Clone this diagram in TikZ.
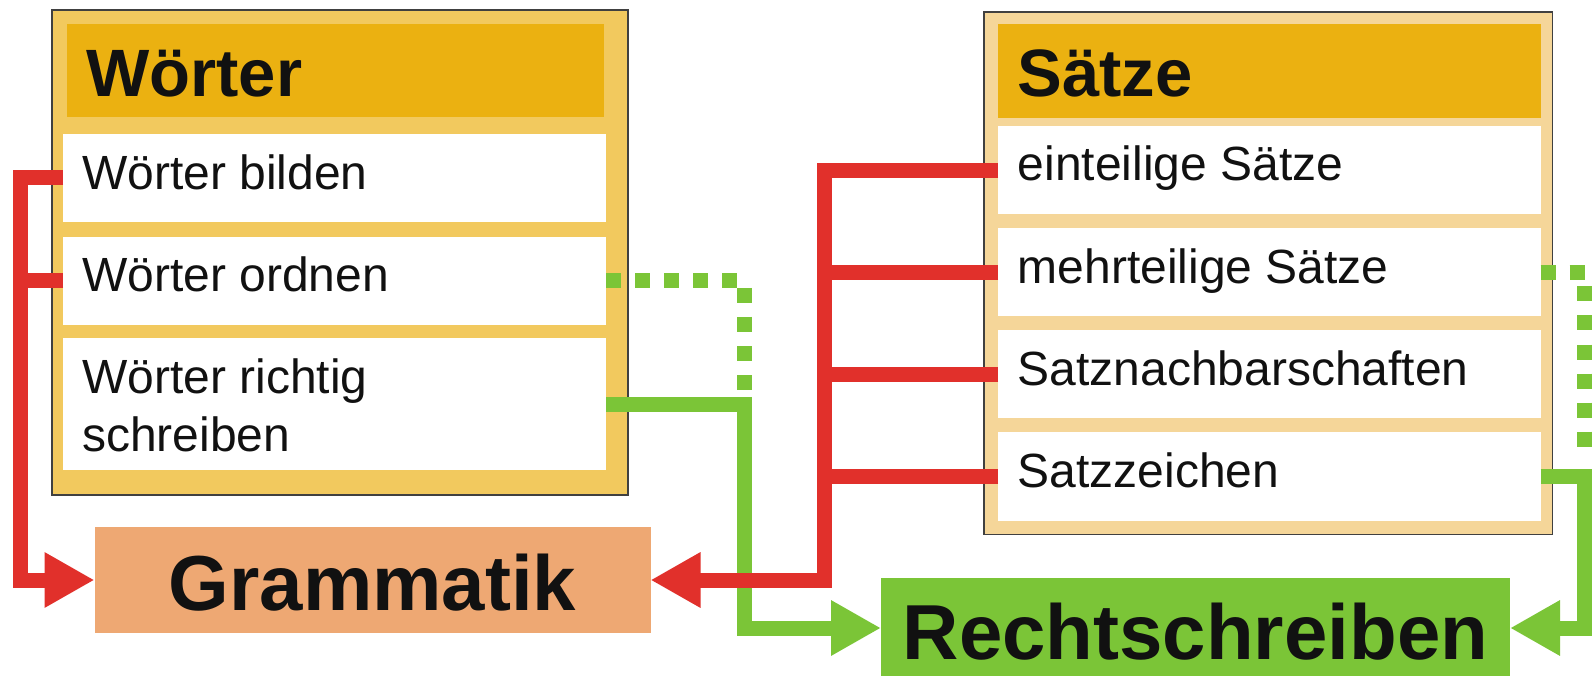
\documentclass[tikz,border=0pt]{standalone}
\usepackage{fontspec}
\setmainfont{Liberation Sans}
\usetikzlibrary{arrows.meta}
\definecolor{frameA}{HTML}{F2C95E}
\definecolor{frameB}{HTML}{F5D699}
\definecolor{headc}{HTML}{EBB111}
\definecolor{redl}{HTML}{E1302B}
\definecolor{greenl}{HTML}{7BC537}
\definecolor{gramc}{HTML}{EEA873}
\definecolor{txt}{HTML}{111111}
\begin{document}
\begin{tikzpicture}[x=1pt,y=-1pt,
 box/.style={inner sep=0pt, outer sep=0pt, anchor=north west, rectangle},
 framebox/.style={box, draw=black!75, line width=1.5pt},
 rowtxt/.style={anchor=base west, inner sep=0pt, text=txt, font=\fontsize{48}{58}\selectfont},
 headtxt/.style={anchor=base west, inner sep=0pt, text=txt, font=\fontsize{67}{70}\selectfont\bfseries},
 bigtxt/.style={anchor=base, inner sep=0pt, text=txt, font=\fontsize{78}{80}\selectfont\bfseries},
 redline/.style={draw=redl, line width=15pt},
 greenline/.style={draw=greenl, line width=15pt},
 dotline/.style={draw=greenl, line width=15pt, dash pattern=on 15pt off 14pt},
 tipa/.style={-{Triangle[length=50pt,width=52pt]}}
]
\useasboundingbox (0,0) rectangle (1593,676);
\fill[white] (0,0) rectangle (1593,676);

% Woerter block
\node[framebox, fill=frameA, minimum width=576pt, minimum height=485pt] (wA) at (52,10) {};
\node[box, fill=headc, minimum width=537.5pt, minimum height=93pt] (wH) at (66.5,24) {};
\node[box, fill=white, minimum width=543pt, minimum height=88pt] (wr1) at (63,134) {};
\node[box, fill=white, minimum width=543pt, minimum height=88pt] (wr2) at (63,237) {};
\node[box, fill=white, minimum width=543pt, minimum height=132pt] (wr3) at (63,338) {};
\node[headtxt] (wHt) at (86,97) {Wörter};
\node[rowtxt] (wt1) at (82,190) {Wörter bilden};
\node[rowtxt] (wt2) at (82,292) {Wörter ordnen};
\node[rowtxt] (wt3) at (82,393) {Wörter richtig};
\node[rowtxt] (wt4) at (82,451) {schreiben};

% Saetze block
\node[framebox, fill=frameB, minimum width=568.5pt, minimum height=522.5pt] (sA) at (984,12) {};
\node[box, fill=headc, minimum width=542.5pt, minimum height=94pt] (sH) at (998,24) {};
\node[box, fill=white, minimum width=542.5pt, minimum height=88.5pt] (sr1) at (998,126) {};
\node[box, fill=white, minimum width=542.5pt, minimum height=88pt] (sr2) at (998,228.5) {};
\node[box, fill=white, minimum width=542.5pt, minimum height=88pt] (sr3) at (998,330) {};
\node[box, fill=white, minimum width=542.5pt, minimum height=89pt] (sr4) at (998,432) {};
\node[headtxt] (sHt) at (1017.5,97) {Sätze};
\node[rowtxt] (st1) at (1017.5,181) {einteilige Sätze};
\node[rowtxt] (st2) at (1017.5,283.5) {mehrteilige Sätze};
\node[rowtxt] (st3) at (1017.5,385) {Satznachbarschaften};
\node[rowtxt] (st4) at (1017.5,487.5) {Satzzeichen};

% target boxes
\node[box, fill=gramc, minimum width=556pt, minimum height=106pt] (gram) at (94.5,527) {};
\node[bigtxt] (gramt) at (372.5,610) {Grammatik};
\node[box, fill=greenl, minimum width=629pt, minimum height=100pt] (recht) at (881,578) {};
\node[bigtxt] (rechtt) at (1195.5,659) {Rechtschreiben};

% green connectors
\draw[dotline] (wr2.east) -- ++(138,0) -- ++(0,109);
\draw[greenline,tipa] (wr3.east) -- ++(138,0) |- (recht.west);
\draw[dotline] (sr2.east) -- ++(44,0) -- ++(0,174);
\draw[greenline,tipa] (sr4.east) -- ++(44,0) |- (recht.east);

% red connectors
\draw[redline,tipa] (wr1.west) -- ++(-43,0) |- (gram.west);
\draw[redline] (wr2.west) -- ++(-43,0);
\draw[redline,tipa] (sr1.west) -- ++(-174,0) |- (gram.east);
\draw[redline] (sr2.west) -- ++(-174,0);
\draw[redline] (sr3.west) -- ++(-174,0);
\draw[redline] (sr4.west) -- ++(-174,0);
\end{tikzpicture}
\end{document}
